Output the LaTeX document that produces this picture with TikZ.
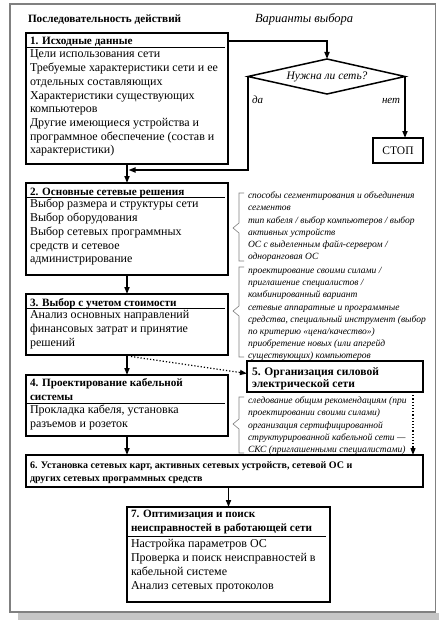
\documentclass[tikz,border=0pt]{standalone}
\usepackage{fontspec}
\setmainfont{Liberation Serif}
\usetikzlibrary{arrows.meta,shapes.geometric,calc}
\begin{document}
\begin{tikzpicture}[x=1pt,y=-1pt,
  box/.style={draw,line width=1.8pt,anchor=north west,inner sep=0pt,outer sep=0pt},
  txt/.style={inner sep=0pt,outer sep=0pt,anchor=north west,align=left},
  body/.style={txt,font=\fontsize{12}{13.7}\selectfont},
  hdr/.style={txt,font=\bfseries\fontsize{11.2}{13.7}\selectfont},
  note/.style={txt,font=\itshape\fontsize{9.5}{12}\selectfont},
  rule/.style={line width=1.5pt},
  arr/.style={line width=1.6pt,-{Triangle[length=7pt,width=5pt]}},
  darr/.style={line width=1.2pt,dotted,-{Triangle[length=7pt,width=5pt]}},
  brc/.style={draw=gray,line width=0.6pt}]
\useasboundingbox (0,0) rectangle (439,623);
% frame and shadow
\fill[gray!45] (18,612.5) rectangle (439,619.5);
\draw[gray,line width=1.2pt,fill=white] (10,4) rectangle (435.5,612);

% titles
\node[txt,anchor=base west,font=\bfseries\fontsize{11.2}{13}\selectfont] (title1) at (28,23) {Последовательность действий};
\node[txt,anchor=base west,font=\itshape\fontsize{12.5}{13}\selectfont] (title2) at (255,23) {Варианты выбора};

% box 1
\node[box,minimum width=202pt,minimum height=131pt] (b1) at (26,33) {};
\node[hdr,anchor=base west] (h1) at (30,45) {1. Исходные данные};
\draw[rule] (27,47.5) -- (225,47.5);
\node[body] (t1) at (30,58-9.6) {\strut Цели использования сети\\Требуемые характеристики сети и ее\\отдельных составляющих\\Характеристики существующих\\компьютеров\\Другие имеющиеся устройства и\\программное обеспечение (состав и\\характеристики)};

% decision
\coordinate (dn) at (327,59);
\coordinate (dw) at (248,76.5);
\coordinate (de) at (405,76.5);
\coordinate (ds) at (327,94);
\draw[line width=1.5pt,line join=miter] (dn) -- (de) -- (ds) -- (dw) -- cycle;
\node[inner sep=0pt,font=\itshape\fontsize{11.5}{13}\selectfont] (d) at (327,76.5) {Нужна ли сеть?};
\node[box,line width=2pt,minimum width=50pt,minimum height=25pt,anchor=north west,font=\fontsize{11.5}{13}\selectfont] (stop) at (373,138) {СТОП};
\node[txt,anchor=base west,font=\itshape\fontsize{11}{13}\selectfont] (yes) at (252,103) {да};
\node[txt,anchor=base west,font=\itshape\fontsize{11}{13}\selectfont] (no) at (382,103) {нет};

% box 2
\node[box,minimum width=202pt,minimum height=92pt] (b2) at (26,183) {};
\node[hdr,anchor=base west] (h2) at (30,195) {2. Основные сетевые решения};
\draw[rule] (27,197.5) -- (225,197.5);
\node[body] (t2) at (30,208-9.6) {\strut Выбор размера и структуры сети\\Выбор оборудования\\Выбор сетевых программных\\средств и сетевое\\администрирование};

% box 3
\node[box,minimum width=202pt,minimum height=61pt] (b3) at (26,294) {};
\node[hdr,anchor=base west] (h3) at (30,306) {3. Выбор с учетом стоимости};
\draw[rule] (27,308.5) -- (225,308.5);
\node[body] (t3) at (30,319-9.6) {\strut Анализ основных направлений\\финансовых затрат и принятие\\решений};

% box 4
\node[box,minimum width=202pt,minimum height=61pt] (b4) at (26,375) {};
\node[hdr] (h4) at (30,387-9.6) {\strut 4. Проектирование кабельной\\системы};
\draw[rule] (27,403.5) -- (225,403.5);
\node[body] (t4) at (30,414-9.6) {\strut Прокладка кабеля, установка\\разъемов и розеток};

% box 5
\node[box,line width=2.3pt,minimum width=176pt,minimum height=31pt] (b5) at (247,361) {};
\node[txt,font=\bfseries\fontsize{11.5}{12.5}\selectfont] (t5) at (252,375-8.75) {\strut 5. Организация силовой\\электрической сети};

% box 6
\node[box,minimum width=397pt,minimum height=32pt] (b6) at (26,455) {};
\node[txt,font=\bfseries\fontsize{10}{13}\selectfont] (t6) at (30,468-9.1) {\strut 6. Установка сетевых карт, активных сетевых устройств, сетевой ОС и\\других сетевых программных средств};

% box 7
\node[box,minimum width=203pt,minimum height=95pt] (b7) at (127,507) {};
\node[hdr] (h7) at (131,518-9.6) {\strut 7. Оптимизация и поиск\\неисправностей в работающей сети};
\draw[rule] (128,536.5) -- (326,536.5);
\node[body] (t7) at (131,548-9.6) {\strut Настройка параметров ОС\\Проверка и поиск неисправностей в\\кабельной системе\\Анализ сетевых протоколов};

% notes and braces
\draw[brc] (244,193) -- (239,193) -- (239,223) -- (233,228) -- (239,233) -- (239,261) -- (244,261);
\node[note] (n1) at (248,198-8.4) {\strut способы сегментирования и объединения\\сегментов};
\node[note] (n2) at (248,223-8.4) {\strut тип кабеля / выбор компьютеров / выбор\\активных устройств};
\node[note] (n3) at (248,247-8.4) {\strut ОС с выделенным файл-сервером /\\одноранговая ОС};

\draw[brc] (244,267) -- (239,267) -- (239,306) -- (233,311) -- (239,316) -- (239,357) -- (244,357);
\node[note] (n4) at (248,273-8.4) {\strut проектирование своими силами /\\приглашение специалистов /\\комбинированный вариант};
\node[note] (n5) at (248,310-8.4) {\strut сетевые аппаратные и программные\\средства, специальный инструмент (выбор\\по критерию «цена/качество»)};
\node[note] (n6) at (248,346-8.4) {\strut приобретение новых (или апгрейд\\существующих) компьютеров};

\draw[brc] (244,397) -- (239,397) -- (239,419) -- (233,424) -- (239,429) -- (239,453) -- (244,453);
\node[note] (n7) at (248,403-8.4) {\strut следование общим рекомендациям (при\\проектировании своими силами)};
\node[note] (n8) at (248,428-8.4) {\strut организация сертифицированной\\структурированной кабельной сети —\\СКС (приглашенными специалистами)};

% connectors
\coordinate (m) at ($(b1.south)+(1.5,6)$);
\coordinate (p3) at ($(b3.south)+(4,1.5)$);
\coordinate (q5) at ($(b5.west)+(0,-3)$);
\coordinate (p5) at ($(b5.south east)+(-10,0)$);
\draw[arr] (b1.south) -- (b2.north);
\draw[arr] ($(b1.north east)+(0,8)$) -| (dn);
\draw[arr] (dw) |- (m);
\draw[arr] (de) -- (de |- stop.north);
\draw[arr] (b2.south) -- (b3.north);
\draw[arr] (b3.south) -- (b4.north);
\draw[arr] (b4.south) -- (b4.south |- b6.north);
\draw[arr] (b7.north |- b6.south) -- (b7.north);
\draw[darr] (p3) -- (q5);
\draw[darr] (p5) -- (p5 |- b6.north);
\end{tikzpicture}
\end{document}
